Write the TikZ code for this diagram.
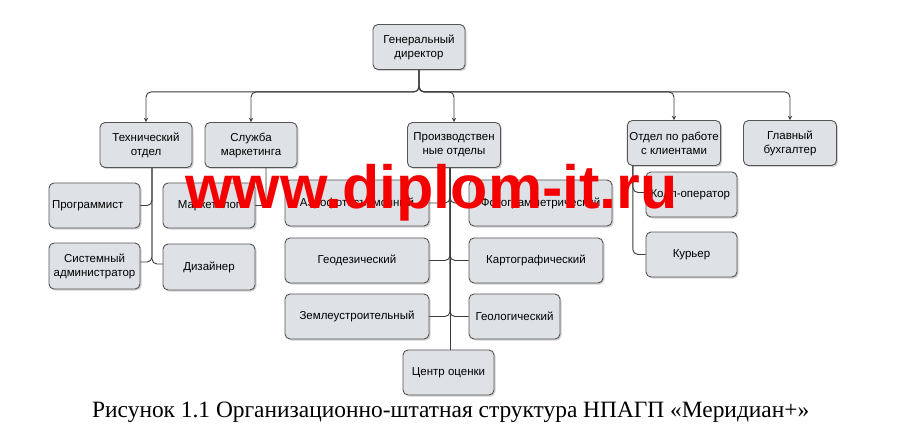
\documentclass[tikz,border=0pt]{standalone}
\usepackage{fontspec}
\setmainfont{Liberation Serif}
\newfontfamily\boxfont{Liberation Sans}
\usepackage{xcolor}
\usetikzlibrary{arrows}
\usetikzlibrary{scopes}
\usetikzlibrary{shadows}

\tikzset{
	unit/.style={rectangle,rounded corners=5pt,draw=boxline,fill=boxgray,line width=0.9pt,
		minimum width=92pt,minimum height=45pt,inner sep=2pt,align=center,
		font=\boxfont\fontsize{11.5}{14}\selectfont,
		drop shadow={shadow xshift=1.5pt,shadow yshift=-1.5pt,opacity=0.35,fill=gray}},
	link/.style={draw=linkgray,line width=0.9pt,rounded corners=5pt}
}

\begin{document}
\begin{tikzpicture}[x=1pt,y=-1pt]

\definecolor{boxgray}{RGB}{222,225,229};
\definecolor{boxline}{RGB}{85,85,85};
\definecolor{linkgray}{RGB}{60,60,60};
\definecolor{markred}{RGB}{245,0,0};

\useasboundingbox [fill=white] (0,0) rectangle (908,433);

%top level
\node[unit] (gendir) at (419,47) {Генеральный\\директор};

\node[unit] (tech) at (146,145) {Технический\\отдел};
\node[unit] (market) at (251,145) {Служба\\маркетинга};
\node[unit,minimum width=93pt] (prod) at (454,145) {Производствен\\ные отделы};
\node[unit] (client) at (674,143) {Отдел по работе\\с клиентами};
\node[unit,minimum width=93pt] (buh) at (790,143) {Главный\\бухгалтер};

%technical department and marketing
\node[unit,minimum width=91pt,text width=85pt,align=left] (prog) at (94.5,205.5) {Программист};
\node[unit,minimum width=91pt,minimum height=46pt] (sysadm) at (94.5,266) {Системный\\администратор};
\node[unit] (marketolog) at (209,205.5) {Маркетолог};
\node[unit,minimum height=46pt] (designer) at (209,267) {Дизайнер};

%production departments
\node[unit,minimum width=144pt,minimum height=46pt] (aero) at (357,203) {Аэрофотосъемочный};
\node[unit,minimum width=144pt] (geod) at (357,260.5) {Геодезический};
\node[unit,minimum width=144pt] (zeml) at (357,316.5) {Землеустроительный};
\node[unit,minimum width=143pt,minimum height=46pt] (foto) at (540.5,203) {Фотограмметрический};
\node[unit,minimum width=134pt] (karto) at (536,260.5) {Картографический};
\node[unit,minimum width=91pt] (geol) at (514.5,316.5) {Геологический};
\node[unit,minimum width=91pt] (centr) at (448.5,372.5) {Центр оценки};

%clients
\node[unit,minimum width=91pt,text width=82pt,align=left] (koll) at (691.5,194.5) {Колл-оператор};
\node[unit,minimum width=91pt] (kurer) at (691.5,254.5) {Курьер};

{[link,->,>=stealth]
	% from director
	\draw (gendir.south) -- ++(0,22) -| (tech.north);
	\draw (gendir.south) -- ++(0,22) -| (market.north);
	\draw (gendir.south) -- ++(0,22) -| (prod.north);
	\draw (gendir.south) -- ++(0,22) -| (client.north);
	\draw (gendir.south) -- ++(0,22) -| (buh.north);
}

{[link]
	% from technical department
	\draw ([xshift=6pt]tech.south) |- (prog.east);
	\draw ([xshift=6pt]tech.south) |- ([yshift=4pt]sysadm.east);
	\draw ([xshift=6pt]tech.south) |- ([yshift=3pt]designer.west);
	% from marketing
	\draw ([xshift=15pt]market.south) |- (marketolog.east);
	% from production
	\draw ([xshift=-4pt]prod.south) |- (aero.east);
	\draw ([xshift=-4pt]prod.south) |- (geod.east);
	\draw ([xshift=-4pt]prod.south) |- (zeml.east);
	\draw ([xshift=-4pt]prod.south) |- (foto.west);
	\draw ([xshift=-4pt]prod.south) |- (karto.west);
	\draw ([xshift=-4pt]prod.south) |- (geol.west);
	\draw ([xshift=-4pt]prod.south) -- ([xshift=1.5pt]centr.north);
	% from clients
	\draw ([xshift=6pt]client.south west) |- ([yshift=2pt]koll.west);
	\draw ([xshift=6pt]client.south west) |- (kurer.west);
}

%watermark
\node[anchor=base west,inner sep=0pt,text=markred,font=\boxfont\bfseries\fontsize{61}{61}\selectfont] (mark) at (185,208) {www.diplom-it.ru};

%caption
\node[anchor=base west,inner sep=0pt,font=\fontsize{23.4}{25}\selectfont] (caption) at (92,417) {Рисунок 1.1 Организационно-штатная структура НПАГП «Меридиан+»};

\end{tikzpicture}
\end{document}
